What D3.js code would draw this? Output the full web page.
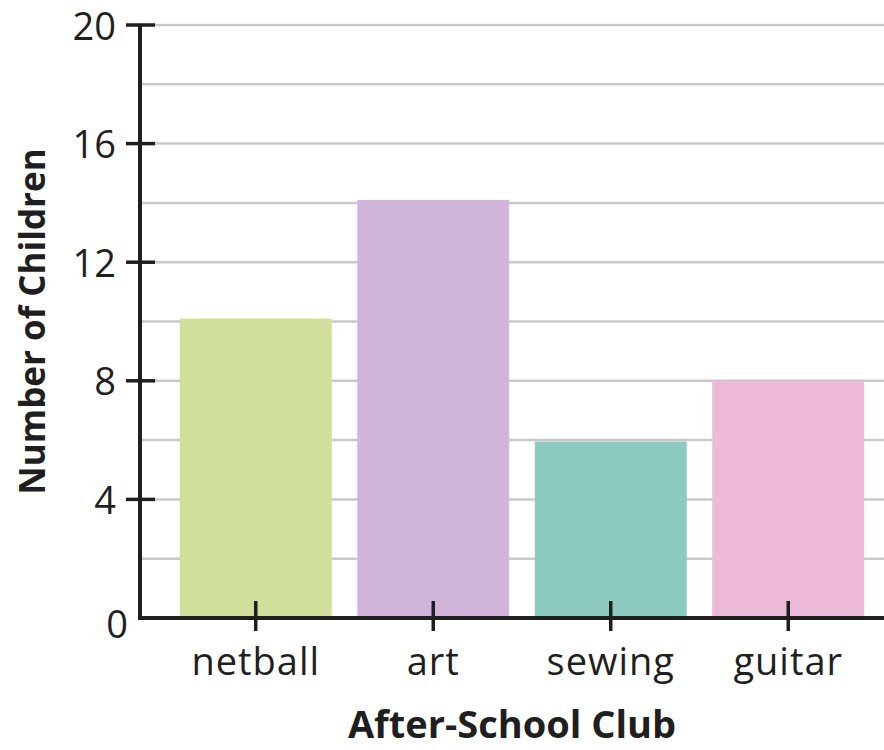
<!DOCTYPE html>
<html>
<head>
<meta charset="utf-8">
<script src="https://cdn.jsdelivr.net/npm/d3@7"></script>
<style>
  html, body { margin: 0; padding: 0; background: #fff; }
  svg { display: block; }
</style>
</head>
<body>
<svg id="chart" width="884" height="750"></svg>
<script>
const categories = ["netball", "art", "sewing", "guitar"];
const values = [10.1, 14.1, 5.95, 8];
const colors = ["#d0e09c", "#cfb5d9", "#8dcbc0", "#ecbad8"];
const yTicks = [0, 4, 8, 12, 16, 20];
const gridValues = [2, 4, 6, 8, 10, 12, 14, 16, 18, 20];
const xTitle = "After-School Club";
const yTitle = "Number of Children";

const svg = d3.select("#chart");
const font = "'Open Sans', sans-serif";
const ink = "#1f1f1f";

const x0 = 140, x1 = 884, yTop = 25, yBottom = 618;
const y = d3.scaleLinear().domain([0, 20]).range([yBottom, yTop]);
const x = d3.scaleBand().domain(categories).range([167, 877])
  .paddingInner(0.144).paddingOuter(0.072);

// gridlines
svg.append("g").selectAll("line").data(gridValues).join("line")
  .attr("x1", x0 + 2).attr("x2", x1)
  .attr("y1", d => y(d)).attr("y2", d => y(d))
  .attr("stroke", "#c9c9c9").attr("stroke-width", 2.5);

// bars
svg.append("g").selectAll("rect").data(categories).join("rect")
  .attr("x", d => x(d))
  .attr("width", x.bandwidth())
  .attr("y", (d, i) => y(values[i]))
  .attr("height", (d, i) => y(0) - y(values[i]) - 2)
  .attr("fill", (d, i) => colors[i]);

// y axis
const yAxis = d3.axisLeft(y).tickValues(yTicks).tickSize(0).tickPadding(0);
const gy = svg.append("g").attr("transform", `translate(${x0},0)`).call(yAxis);
gy.select(".domain").remove();
gy.selectAll("text")
  .attr("font-family", font).attr("font-size", 38).attr("fill", ink)
  .attr("x", d => d === 0 ? -12 : -24)
  .attr("dy", d => d === 0 ? "0.52em" : "0.37em");
// major tick marks crossing the axis (not at 0)
svg.append("g").selectAll("line").data(yTicks.filter(d => d > 0)).join("line")
  .attr("x1", x0 - 14).attr("x2", x0 + 15)
  .attr("y1", d => y(d)).attr("y2", d => y(d))
  .attr("stroke", ink).attr("stroke-width", 3.5);

// x axis
const xAxis = d3.axisBottom(x).tickSize(0).tickPadding(0);
const gx = svg.append("g").attr("transform", `translate(0,${yBottom})`).call(xAxis);
gx.select(".domain").remove();
gx.selectAll("text")
  .attr("font-family", font).attr("font-size", 38).attr("fill", ink)
  .attr("letter-spacing", 1)
  .attr("y", 57).attr("dy", 0);
svg.append("g").selectAll("line").data(categories).join("line")
  .attr("x1", d => x(d) + x.bandwidth() / 2).attr("x2", d => x(d) + x.bandwidth() / 2)
  .attr("y1", yBottom - 17).attr("y2", yBottom + 13)
  .attr("stroke", ink).attr("stroke-width", 3.5);

// axis lines
svg.append("path")
  .attr("d", `M${x0},${yTop - 1}V${yBottom}H${x1}`)
  .attr("fill", "none").attr("stroke", ink).attr("stroke-width", 4);

// titles
svg.append("text")
  .attr("x", (x0 + x1) / 2).attr("y", 738)
  .attr("text-anchor", "middle")
  .attr("font-family", font).attr("font-weight", 700).attr("font-size", 38)
  .attr("fill", ink).text(xTitle);

svg.append("text")
  .attr("transform", `translate(45,${(yTop + yBottom) / 2}) rotate(-90)`)
  .attr("text-anchor", "middle")
  .attr("font-family", font).attr("font-weight", 700).attr("font-size", 35)
  .attr("fill", ink).text(yTitle);
</script>
</body>
</html>
